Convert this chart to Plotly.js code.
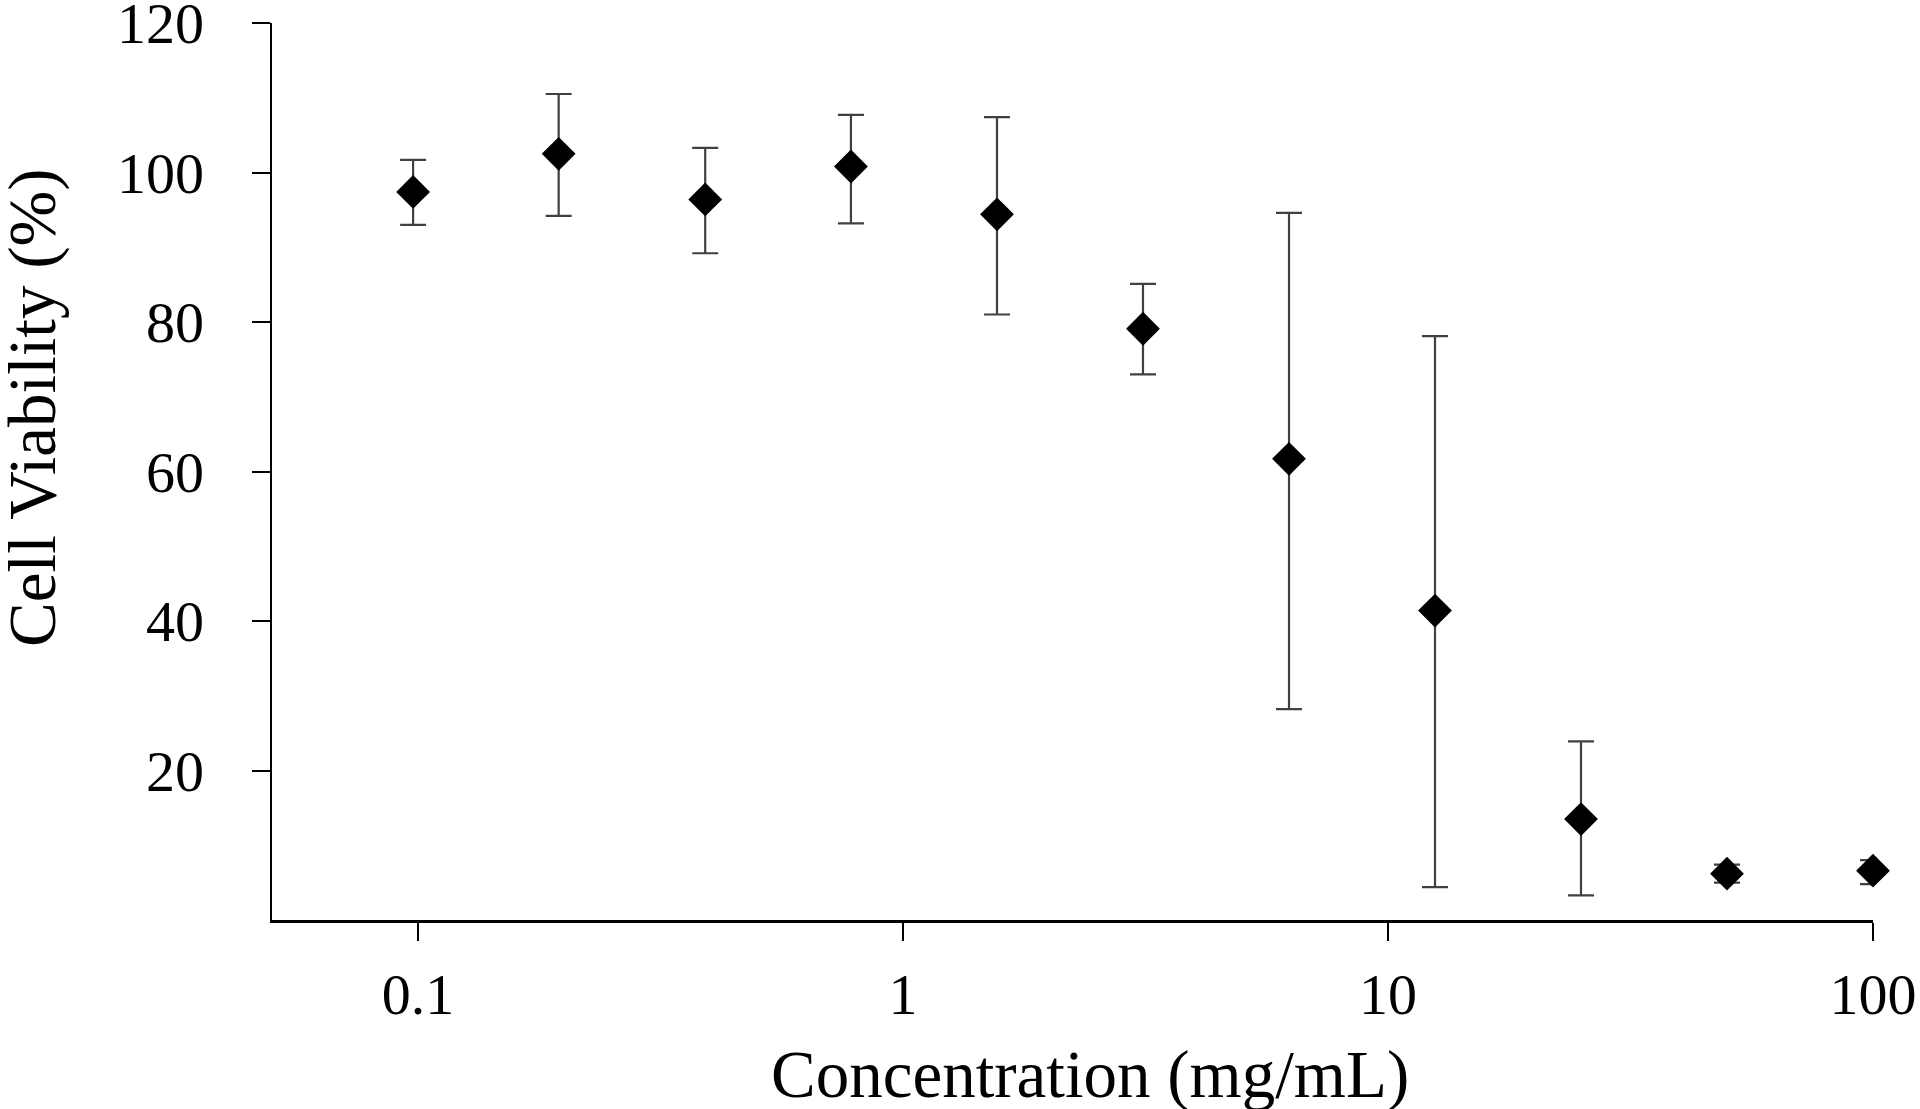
<!DOCTYPE html>
<html>
<head>
<meta charset="utf-8">
<script src="https://cdn.plot.ly/plotly-3.0.1.min.js"></script>
<style>html,body{margin:0;padding:0;background:#fff;}#chart{width:1920px;height:1109px;}</style>
</head>
<body>
<div id="chart"></div>
<script>
// Concentration (mg/mL)
const concentration = [0.0977, 0.195, 0.391, 0.781, 1.5625, 3.125, 6.25, 12.5, 25, 50, 100];
// Mean cell viability (%)
const viability = [97.4, 102.5, 96.4, 100.8, 94.4, 79.1, 61.7, 41.4, 13.5, 6.2, 6.6];
// Error bar extents (%)
const errorPlus = [4.3, 8.0, 6.9, 6.9, 13.0, 6.0, 32.9, 36.7, 10.4, 1.2, 1.4];
const errorMinus = [4.4, 8.3, 7.2, 7.6, 13.4, 6.1, 33.5, 37.0, 10.2, 1.2, 1.8];
// Tick labels
const xTickVals = [0.1, 1, 10, 100];
const xTickText = ["0.1", "1", "10", "100"];
const yTickVals = [20, 40, 60, 80, 100, 120];
// Axis titles
const xTitle = 'Concentration (mg/mL)';
const yTitle = 'Cell Viability (%)';

const trace = {
  x: concentration,
  y: viability,
  type: 'scatter',
  mode: 'markers',
  cliponaxis: false,
  marker: {symbol: 'diamond', size: 26, color: '#000000', line: {width: 0}},
  error_y: {
    type: 'data',
    symmetric: false,
    array: errorPlus,
    arrayminus: errorMinus,
    color: '#404040',
    thickness: 2.2,
    width: 13
  },
  showlegend: false
};

const font = {family: '"Liberation Serif", "Times New Roman", serif', color: '#000000'};

const layout = {
  width: 1920,
  height: 1109,
  margin: {l: 272, r: 47, t: 23, b: 189},
  paper_bgcolor: '#ffffff',
  plot_bgcolor: '#ffffff',
  font: Object.assign({size: 58}, font),
  xaxis: {
    type: 'log',
    range: [Math.log10(0.05), 2],
    tickvals: xTickVals,
    ticktext: xTickText,
    ticks: 'outside',
    ticklen: 18,
    tickwidth: 2,
    tickcolor: '#000000',
    showline: true,
    linecolor: '#000000',
    linewidth: 2.5,
    showgrid: false,
    zeroline: false,
    tickfont: Object.assign({size: 58}, font),
    ticklabelstandoff: 4,
    ticklabeloverflow: 'allow'
  },
  yaxis: {
    range: [0, 120],
    tickvals: yTickVals,
    ticks: 'outside',
    ticklen: 18,
    tickwidth: 2,
    tickcolor: '#000000',
    showline: true,
    linecolor: '#000000',
    linewidth: 2.5,
    showgrid: false,
    zeroline: false,
    tickfont: Object.assign({size: 58}, font),
    ticklabelstandoff: 36,
    ticklabeloverflow: 'allow'
  },
  annotations: [
    {
      text: xTitle, xref: 'paper', yref: 'paper',
      x: 0.511, y: -0.172, xanchor: 'center', yanchor: 'middle',
      showarrow: false, font: Object.assign({size: 67}, font)
    },
    {
      text: yTitle, xref: 'paper', yref: 'paper', textangle: -90,
      x: -0.1493, y: 0.572, xanchor: 'center', yanchor: 'middle',
      showarrow: false, font: Object.assign({size: 67}, font)
    }
  ]
};

Plotly.newPlot('chart', [trace], layout, {staticPlot: true, displayModeBar: false});
</script>
</body>
</html>
